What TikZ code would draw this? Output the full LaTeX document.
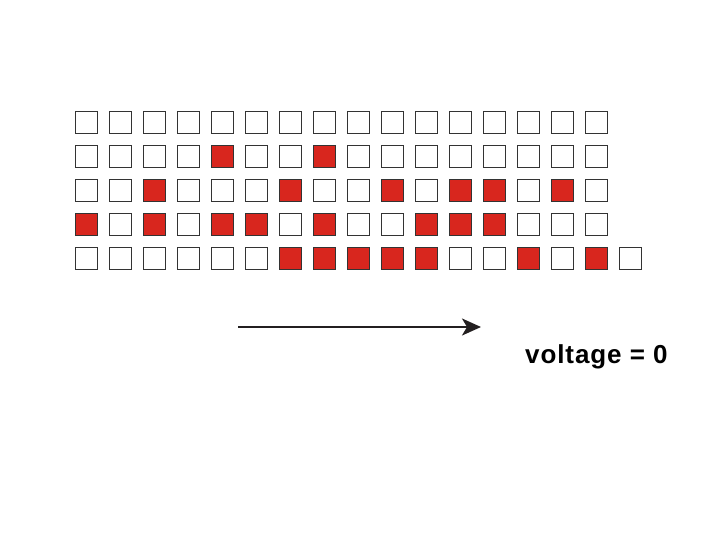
\documentclass[tikz,border=0pt]{standalone}
\usepackage{fontspec}
\setmainfont{Liberation Sans}
\usepackage{xcolor}
\usepackage{tikz}
\usetikzlibrary{positioning,arrows.meta}
\definecolor{cellred}{HTML}{D8261E}
\definecolor{cellline}{HTML}{333333}
\definecolor{arrowink}{HTML}{231F20}
\tikzset{
  % --- register cells ---
  cell/.style={draw=cellline, line width=1.2pt, rectangle,
               minimum width=22pt, minimum height=22pt, inner sep=0pt},
  % --- drift arrow and label ---
  drift/.style={-{Stealth[length=19pt,width=17pt,inset=5pt]},
                line width=2.2pt, draw=arrowink},
  vlabel/.style={font=\bfseries\fontsize{26}{30}\selectfont\addfontfeature{LetterSpace=3.5},
                 inner sep=0pt},
}
\begin{document}
\begin{tikzpicture}[x=1pt,y=-1pt]
  \useasboundingbox (0,0) rectangle (720,540);
  % one row per line, 1 = red cell
  \foreach \r/\row in {0/{0,0,0,0,0,0,0,0,0,0,0,0,0,0,0,0},
                       1/{0,0,0,0,1,0,0,1,0,0,0,0,0,0,0,0},
                       2/{0,0,1,0,0,0,1,0,0,1,0,1,1,0,1,0},
                       3/{1,0,1,0,1,1,0,1,0,0,1,1,1,0,0,0},
                       4/{0,0,0,0,0,0,1,1,1,1,1,0,0,1,0,1,0}}
    \foreach \v [count=\c from 0] in \row {
      \ifnum\v=1 \def\cellfill{cellred}\else\def\cellfill{white}\fi
      \node[cell, fill=\cellfill] (c-\r-\c) at (86.5+34*\c,122.5+34*\r) {};
    }
  \coordinate (vstart) at (238,327);
  \coordinate (vend) at (481,327);
  \draw[drift] (vstart) -- (vend);
  \node[vlabel, anchor=base west] (volt) at (525,363) {voltage = 0};
\end{tikzpicture}
\end{document}
